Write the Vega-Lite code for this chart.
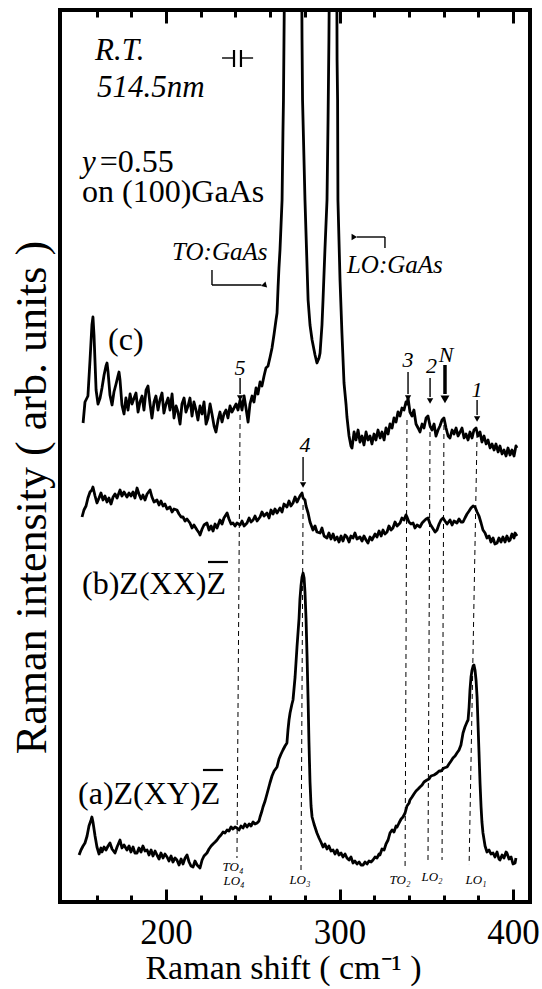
{
  "$schema": "https://vega.github.io/schema/vega-lite/v6.json",
  "width": 470,
  "height": 892,
  "autosize": {"type": "none"},
  "padding": {"left": 60, "top": 10, "right": 12, "bottom": 87},
  "background": "white",
  "config": {
    "view": {"stroke": "black", "strokeWidth": 4},
    "font": "Liberation Serif",
    "axis": {"grid": false, "domain": false, "labelColor": "black", "tickColor": "black", "titleColor": "black", "labelFont": "Liberation Serif", "titleFont": "Liberation Serif", "titleFontWeight": "normal", "labelFlush": false, "labelOverlap": false}
  },
  "datasets": {
    "spectra": [
      {"trace":"c","shift":152.2,"intensity":479},{"trace":"c","shift":153.3,"intensity":500},{"trace":"c","shift":155.0,"intensity":506},{"trace":"c","shift":156.2,"intensity":542},{"trace":"c","shift":157.3,"intensity":577},{"trace":"c","shift":157.9,"intensity":585},{"trace":"c","shift":158.5,"intensity":567},{"trace":"c","shift":159.7,"intensity":512},{"trace":"c","shift":160.8,"intensity":498},{"trace":"c","shift":162.0,"intensity":504},{"trace":"c","shift":163.1,"intensity":514},{"trace":"c","shift":164.3,"intensity":527},{"trace":"c","shift":165.4,"intensity":536},{"trace":"c","shift":166.0,"intensity":539},{"trace":"c","shift":166.6,"intensity":530},{"trace":"c","shift":167.7,"intensity":507},{"trace":"c","shift":168.9,"intensity":497},{"trace":"c","shift":170.0,"intensity":510},{"trace":"c","shift":171.2,"intensity":518},{"trace":"c","shift":172.3,"intensity":526},{"trace":"c","shift":172.9,"intensity":530},{"trace":"c","shift":173.5,"intensity":522},{"trace":"c","shift":174.6,"intensity":497},{"trace":"c","shift":175.8,"intensity":488},{"trace":"c","shift":176.9,"intensity":504},{"trace":"c","shift":178.1,"intensity":492},{"trace":"c","shift":179.3,"intensity":508},{"trace":"c","shift":180.4,"intensity":498},{"trace":"c","shift":181.6,"intensity":504},{"trace":"c","shift":182.7,"intensity":509},{"trace":"c","shift":183.9,"intensity":490},{"trace":"c","shift":185.0,"intensity":500},{"trace":"c","shift":186.2,"intensity":506},{"trace":"c","shift":187.3,"intensity":492},{"trace":"c","shift":188.5,"intensity":512},{"trace":"c","shift":189.6,"intensity":516},{"trace":"c","shift":190.8,"intensity":498},{"trace":"c","shift":191.9,"intensity":484},{"trace":"c","shift":193.1,"intensity":500},{"trace":"c","shift":194.2,"intensity":506},{"trace":"c","shift":195.4,"intensity":492},{"trace":"c","shift":196.5,"intensity":502},{"trace":"c","shift":197.7,"intensity":509},{"trace":"c","shift":198.8,"intensity":489},{"trace":"c","shift":200.0,"intensity":498},{"trace":"c","shift":201.2,"intensity":504},{"trace":"c","shift":202.3,"intensity":492},{"trace":"c","shift":203.5,"intensity":508},{"trace":"c","shift":204.6,"intensity":484},{"trace":"c","shift":205.8,"intensity":496},{"trace":"c","shift":206.9,"intensity":490},{"trace":"c","shift":208.1,"intensity":478},{"trace":"c","shift":209.2,"intensity":498},{"trace":"c","shift":210.4,"intensity":504},{"trace":"c","shift":211.5,"intensity":490},{"trace":"c","shift":212.7,"intensity":496},{"trace":"c","shift":213.8,"intensity":504},{"trace":"c","shift":215.0,"intensity":486},{"trace":"c","shift":216.1,"intensity":500},{"trace":"c","shift":217.3,"intensity":492},{"trace":"c","shift":218.4,"intensity":482},{"trace":"c","shift":219.6,"intensity":496},{"trace":"c","shift":220.8,"intensity":488},{"trace":"c","shift":221.9,"intensity":500},{"trace":"c","shift":223.1,"intensity":478},{"trace":"c","shift":224.2,"intensity":484},{"trace":"c","shift":225.4,"intensity":498},{"trace":"c","shift":226.5,"intensity":488},{"trace":"c","shift":227.7,"intensity":476},{"trace":"c","shift":228.8,"intensity":470},{"trace":"c","shift":230.0,"intensity":482},{"trace":"c","shift":231.1,"intensity":490},{"trace":"c","shift":232.3,"intensity":480},{"trace":"c","shift":233.4,"intensity":488},{"trace":"c","shift":234.6,"intensity":492},{"trace":"c","shift":235.7,"intensity":484},{"trace":"c","shift":236.9,"intensity":496},{"trace":"c","shift":238.0,"intensity":490},{"trace":"c","shift":239.2,"intensity":494},{"trace":"c","shift":240.4,"intensity":498},{"trace":"c","shift":241.5,"intensity":492},{"trace":"c","shift":242.7,"intensity":502},{"trace":"c","shift":243.8,"intensity":492},{"trace":"c","shift":245.0,"intensity":506},{"trace":"c","shift":246.1,"intensity":494},{"trace":"c","shift":247.3,"intensity":480},{"trace":"c","shift":248.4,"intensity":498},{"trace":"c","shift":249.6,"intensity":506},{"trace":"c","shift":250.7,"intensity":500},{"trace":"c","shift":251.9,"intensity":514},{"trace":"c","shift":253.0,"intensity":508},{"trace":"c","shift":254.2,"intensity":520},{"trace":"c","shift":255.3,"intensity":516},{"trace":"c","shift":256.5,"intensity":526},{"trace":"c","shift":257.6,"intensity":534},{"trace":"c","shift":258.8,"intensity":536},{"trace":"c","shift":260.0,"intensity":545},{"trace":"c","shift":261.1,"intensity":554},{"trace":"c","shift":262.3,"intensity":568},{"trace":"c","shift":263.4,"intensity":582},{"trace":"c","shift":264.0,"intensity":589},{"trace":"c","shift":264.6,"intensity":615},{"trace":"c","shift":265.1,"intensity":634},{"trace":"c","shift":265.7,"intensity":652},{"trace":"c","shift":266.3,"intensity":677},{"trace":"c","shift":266.9,"intensity":702},{"trace":"c","shift":267.4,"intensity":769},{"trace":"c","shift":267.7,"intensity":802},{"trace":"c","shift":268.0,"intensity":862},{"trace":"c","shift":269.2,"intensity":1100},{"trace":"c","shift":273.2,"intensity":1700},{"trace":"c","shift":278.0,"intensity":1000},{"trace":"c","shift":278.4,"intensity":862},{"trace":"c","shift":278.7,"intensity":802},{"trace":"c","shift":280.1,"intensity":702},{"trace":"c","shift":281.9,"intensity":602},{"trace":"c","shift":283.0,"intensity":577},{"trace":"c","shift":284.2,"intensity":562},{"trace":"c","shift":285.9,"intensity":547},{"trace":"c","shift":287.0,"intensity":539},{"trace":"c","shift":288.2,"intensity":544},{"trace":"c","shift":288.8,"intensity":549},{"trace":"c","shift":289.9,"intensity":577},{"trace":"c","shift":290.5,"intensity":602},{"trace":"c","shift":291.6,"intensity":652},{"trace":"c","shift":292.8,"intensity":702},{"trace":"c","shift":293.4,"intensity":782},{"trace":"c","shift":293.9,"intensity":862},{"trace":"c","shift":294.5,"intensity":1000},{"trace":"c","shift":296.8,"intensity":1700},{"trace":"c","shift":298.3,"intensity":1000},{"trace":"c","shift":298.6,"intensity":842},{"trace":"c","shift":298.9,"intensity":802},{"trace":"c","shift":299.1,"intensity":702},{"trace":"c","shift":300.3,"intensity":622},{"trace":"c","shift":301.4,"intensity":569},{"trace":"c","shift":302.6,"intensity":519},{"trace":"c","shift":303.8,"intensity":497},{"trace":"c","shift":304.3,"intensity":485},{"trace":"c","shift":305.5,"intensity":466},{"trace":"c","shift":306.6,"intensity":456},{"trace":"c","shift":307.2,"intensity":454},{"trace":"c","shift":308.4,"intensity":470},{"trace":"c","shift":309.5,"intensity":462},{"trace":"c","shift":310.7,"intensity":472},{"trace":"c","shift":311.8,"intensity":460},{"trace":"c","shift":313.0,"intensity":466},{"trace":"c","shift":314.1,"intensity":457},{"trace":"c","shift":315.3,"intensity":470},{"trace":"c","shift":316.4,"intensity":462},{"trace":"c","shift":317.6,"intensity":466},{"trace":"c","shift":318.7,"intensity":458},{"trace":"c","shift":319.9,"intensity":468},{"trace":"c","shift":321.0,"intensity":462},{"trace":"c","shift":322.2,"intensity":472},{"trace":"c","shift":323.4,"intensity":464},{"trace":"c","shift":324.5,"intensity":470},{"trace":"c","shift":325.7,"intensity":462},{"trace":"c","shift":326.8,"intensity":474},{"trace":"c","shift":328.0,"intensity":468},{"trace":"c","shift":329.1,"intensity":478},{"trace":"c","shift":330.3,"intensity":474},{"trace":"c","shift":331.4,"intensity":484},{"trace":"c","shift":332.6,"intensity":480},{"trace":"c","shift":333.7,"intensity":490},{"trace":"c","shift":334.9,"intensity":486},{"trace":"c","shift":336.0,"intensity":494},{"trace":"c","shift":337.2,"intensity":492},{"trace":"c","shift":338.3,"intensity":500},{"trace":"c","shift":338.9,"intensity":498},{"trace":"c","shift":339.5,"intensity":504},{"trace":"c","shift":340.6,"intensity":490},{"trace":"c","shift":341.8,"intensity":486},{"trace":"c","shift":342.9,"intensity":492},{"trace":"c","shift":344.1,"intensity":478},{"trace":"c","shift":345.3,"intensity":474},{"trace":"c","shift":346.4,"intensity":470},{"trace":"c","shift":347.6,"intensity":478},{"trace":"c","shift":348.7,"intensity":474},{"trace":"c","shift":349.9,"intensity":484},{"trace":"c","shift":351.0,"intensity":486},{"trace":"c","shift":352.2,"intensity":476},{"trace":"c","shift":353.3,"intensity":472},{"trace":"c","shift":354.5,"intensity":478},{"trace":"c","shift":355.6,"intensity":466},{"trace":"c","shift":356.8,"intensity":472},{"trace":"c","shift":357.9,"intensity":476},{"trace":"c","shift":359.1,"intensity":482},{"trace":"c","shift":360.2,"intensity":484},{"trace":"c","shift":361.4,"intensity":474},{"trace":"c","shift":362.6,"intensity":466},{"trace":"c","shift":363.7,"intensity":464},{"trace":"c","shift":364.9,"intensity":472},{"trace":"c","shift":366.0,"intensity":468},{"trace":"c","shift":367.2,"intensity":474},{"trace":"c","shift":368.3,"intensity":466},{"trace":"c","shift":369.5,"intensity":470},{"trace":"c","shift":370.6,"intensity":474},{"trace":"c","shift":371.8,"intensity":464},{"trace":"c","shift":372.9,"intensity":468},{"trace":"c","shift":374.1,"intensity":462},{"trace":"c","shift":375.2,"intensity":470},{"trace":"c","shift":376.4,"intensity":464},{"trace":"c","shift":377.5,"intensity":472},{"trace":"c","shift":378.7,"intensity":474},{"trace":"c","shift":379.8,"intensity":466},{"trace":"c","shift":381.0,"intensity":470},{"trace":"c","shift":382.1,"intensity":460},{"trace":"c","shift":383.3,"intensity":466},{"trace":"c","shift":384.5,"intensity":458},{"trace":"c","shift":385.6,"intensity":462},{"trace":"c","shift":386.8,"intensity":454},{"trace":"c","shift":387.9,"intensity":458},{"trace":"c","shift":389.1,"intensity":452},{"trace":"c","shift":390.2,"intensity":458},{"trace":"c","shift":391.4,"intensity":450},{"trace":"c","shift":392.5,"intensity":456},{"trace":"c","shift":393.7,"intensity":448},{"trace":"c","shift":394.8,"intensity":452},{"trace":"c","shift":396.0,"intensity":446},{"trace":"c","shift":397.1,"intensity":454},{"trace":"c","shift":398.3,"intensity":447},{"trace":"c","shift":399.4,"intensity":452},{"trace":"c","shift":400.6,"intensity":446},{"trace":"c","shift":401.7,"intensity":456},{"trace":"c","shift":402.3,"intensity":454},
      {"trace":"b","shift":151.6,"intensity":385},{"trace":"b","shift":152.7,"intensity":392},{"trace":"b","shift":153.9,"intensity":396},{"trace":"b","shift":155.0,"intensity":404},{"trace":"b","shift":156.2,"intensity":410},{"trace":"b","shift":157.3,"intensity":412},{"trace":"b","shift":157.9,"intensity":415},{"trace":"b","shift":159.1,"intensity":406},{"trace":"b","shift":160.2,"intensity":399},{"trace":"b","shift":161.4,"intensity":404},{"trace":"b","shift":162.5,"intensity":409},{"trace":"b","shift":163.7,"intensity":402},{"trace":"b","shift":164.8,"intensity":406},{"trace":"b","shift":166.0,"intensity":400},{"trace":"b","shift":167.1,"intensity":404},{"trace":"b","shift":168.3,"intensity":398},{"trace":"b","shift":169.5,"intensity":405},{"trace":"b","shift":170.6,"intensity":408},{"trace":"b","shift":171.8,"intensity":404},{"trace":"b","shift":173.5,"intensity":412},{"trace":"b","shift":174.6,"intensity":406},{"trace":"b","shift":175.8,"intensity":410},{"trace":"b","shift":177.5,"intensity":405},{"trace":"b","shift":178.7,"intensity":409},{"trace":"b","shift":179.8,"intensity":406},{"trace":"b","shift":181.0,"intensity":410},{"trace":"b","shift":182.1,"intensity":404},{"trace":"b","shift":183.3,"intensity":414},{"trace":"b","shift":184.4,"intensity":408},{"trace":"b","shift":185.6,"intensity":403},{"trace":"b","shift":186.7,"intensity":407},{"trace":"b","shift":187.9,"intensity":402},{"trace":"b","shift":189.1,"intensity":408},{"trace":"b","shift":190.8,"intensity":412},{"trace":"b","shift":191.9,"intensity":405},{"trace":"b","shift":193.1,"intensity":400},{"trace":"b","shift":194.8,"intensity":402},{"trace":"b","shift":196.0,"intensity":397},{"trace":"b","shift":197.1,"intensity":401},{"trace":"b","shift":198.3,"intensity":396},{"trace":"b","shift":199.4,"intensity":398},{"trace":"b","shift":200.6,"intensity":393},{"trace":"b","shift":202.3,"intensity":395},{"trace":"b","shift":203.5,"intensity":390},{"trace":"b","shift":204.6,"intensity":393},{"trace":"b","shift":206.3,"intensity":392},{"trace":"b","shift":207.5,"intensity":388},{"trace":"b","shift":208.7,"intensity":385},{"trace":"b","shift":209.8,"intensity":385},{"trace":"b","shift":211.0,"intensity":381},{"trace":"b","shift":212.1,"intensity":383},{"trace":"b","shift":213.8,"intensity":379},{"trace":"b","shift":215.0,"intensity":374},{"trace":"b","shift":216.1,"intensity":377},{"trace":"b","shift":217.9,"intensity":372},{"trace":"b","shift":219.1,"intensity":369},{"trace":"b","shift":219.6,"intensity":367},{"trace":"b","shift":220.8,"intensity":373},{"trace":"b","shift":221.9,"intensity":377},{"trace":"b","shift":223.6,"intensity":379},{"trace":"b","shift":224.8,"intensity":372},{"trace":"b","shift":226.0,"intensity":376},{"trace":"b","shift":227.1,"intensity":371},{"trace":"b","shift":228.3,"intensity":378},{"trace":"b","shift":229.4,"intensity":374},{"trace":"b","shift":231.1,"intensity":382},{"trace":"b","shift":232.3,"intensity":378},{"trace":"b","shift":233.4,"intensity":384},{"trace":"b","shift":235.2,"intensity":389},{"trace":"b","shift":236.3,"intensity":383},{"trace":"b","shift":237.5,"intensity":378},{"trace":"b","shift":238.6,"intensity":379},{"trace":"b","shift":239.8,"intensity":376},{"trace":"b","shift":240.9,"intensity":379},{"trace":"b","shift":242.7,"intensity":377},{"trace":"b","shift":243.8,"intensity":381},{"trace":"b","shift":245.0,"intensity":376},{"trace":"b","shift":246.7,"intensity":379},{"trace":"b","shift":247.9,"intensity":384},{"trace":"b","shift":249.0,"intensity":380},{"trace":"b","shift":250.2,"intensity":382},{"trace":"b","shift":251.3,"intensity":386},{"trace":"b","shift":252.5,"intensity":381},{"trace":"b","shift":254.2,"intensity":385},{"trace":"b","shift":255.3,"intensity":390},{"trace":"b","shift":256.5,"intensity":386},{"trace":"b","shift":258.2,"intensity":389},{"trace":"b","shift":259.4,"intensity":384},{"trace":"b","shift":260.5,"intensity":392},{"trace":"b","shift":261.7,"intensity":388},{"trace":"b","shift":262.8,"intensity":393},{"trace":"b","shift":264.0,"intensity":389},{"trace":"b","shift":265.7,"intensity":394},{"trace":"b","shift":266.9,"intensity":390},{"trace":"b","shift":268.0,"intensity":398},{"trace":"b","shift":269.7,"intensity":395},{"trace":"b","shift":270.9,"intensity":401},{"trace":"b","shift":272.0,"intensity":396},{"trace":"b","shift":273.2,"intensity":399},{"trace":"b","shift":274.4,"intensity":405},{"trace":"b","shift":275.5,"intensity":400},{"trace":"b","shift":276.1,"intensity":402},{"trace":"b","shift":277.2,"intensity":406},{"trace":"b","shift":278.4,"intensity":409},{"trace":"b","shift":279.0,"intensity":404},{"trace":"b","shift":280.1,"intensity":402},{"trace":"b","shift":280.7,"intensity":396},{"trace":"b","shift":281.9,"intensity":389},{"trace":"b","shift":283.0,"intensity":380},{"trace":"b","shift":284.7,"intensity":372},{"trace":"b","shift":285.9,"intensity":376},{"trace":"b","shift":287.0,"intensity":370},{"trace":"b","shift":288.8,"intensity":369},{"trace":"b","shift":289.9,"intensity":374},{"trace":"b","shift":291.1,"intensity":366},{"trace":"b","shift":292.8,"intensity":364},{"trace":"b","shift":293.9,"intensity":369},{"trace":"b","shift":295.1,"intensity":363},{"trace":"b","shift":296.3,"intensity":368},{"trace":"b","shift":297.4,"intensity":362},{"trace":"b","shift":298.6,"intensity":365},{"trace":"b","shift":299.7,"intensity":360},{"trace":"b","shift":300.9,"intensity":366},{"trace":"b","shift":302.0,"intensity":361},{"trace":"b","shift":303.2,"intensity":367},{"trace":"b","shift":304.3,"intensity":365},{"trace":"b","shift":305.5,"intensity":360},{"trace":"b","shift":306.6,"intensity":366},{"trace":"b","shift":307.8,"intensity":364},{"trace":"b","shift":308.9,"intensity":369},{"trace":"b","shift":310.1,"intensity":363},{"trace":"b","shift":311.8,"intensity":365},{"trace":"b","shift":313.0,"intensity":361},{"trace":"b","shift":314.1,"intensity":366},{"trace":"b","shift":315.3,"intensity":362},{"trace":"b","shift":316.4,"intensity":359},{"trace":"b","shift":317.6,"intensity":365},{"trace":"b","shift":318.7,"intensity":362},{"trace":"b","shift":320.5,"intensity":368},{"trace":"b","shift":321.6,"intensity":365},{"trace":"b","shift":322.8,"intensity":371},{"trace":"b","shift":324.0,"intensity":366},{"trace":"b","shift":325.1,"intensity":372},{"trace":"b","shift":326.2,"intensity":368},{"trace":"b","shift":327.4,"intensity":370},{"trace":"b","shift":328.5,"intensity":376},{"trace":"b","shift":329.7,"intensity":372},{"trace":"b","shift":330.8,"intensity":374},{"trace":"b","shift":332.0,"intensity":380},{"trace":"b","shift":333.2,"intensity":376},{"trace":"b","shift":334.9,"intensity":379},{"trace":"b","shift":336.0,"intensity":384},{"trace":"b","shift":337.2,"intensity":382},{"trace":"b","shift":338.3,"intensity":387},{"trace":"b","shift":338.9,"intensity":385},{"trace":"b","shift":340.0,"intensity":380},{"trace":"b","shift":341.2,"intensity":378},{"trace":"b","shift":342.4,"intensity":379},{"trace":"b","shift":343.5,"intensity":374},{"trace":"b","shift":344.7,"intensity":377},{"trace":"b","shift":346.4,"intensity":375},{"trace":"b","shift":347.6,"intensity":379},{"trace":"b","shift":348.7,"intensity":381},{"trace":"b","shift":349.9,"intensity":383},{"trace":"b","shift":351.0,"intensity":384},{"trace":"b","shift":352.2,"intensity":378},{"trace":"b","shift":353.3,"intensity":375},{"trace":"b","shift":355.1,"intensity":370},{"trace":"b","shift":356.2,"intensity":372},{"trace":"b","shift":357.4,"intensity":378},{"trace":"b","shift":358.5,"intensity":382},{"trace":"b","shift":359.7,"intensity":384},{"trace":"b","shift":360.8,"intensity":381},{"trace":"b","shift":362.0,"intensity":378},{"trace":"b","shift":363.7,"intensity":382},{"trace":"b","shift":364.9,"intensity":377},{"trace":"b","shift":366.0,"intensity":381},{"trace":"b","shift":367.7,"intensity":379},{"trace":"b","shift":368.9,"intensity":383},{"trace":"b","shift":370.0,"intensity":380},{"trace":"b","shift":371.2,"intensity":380},{"trace":"b","shift":372.3,"intensity":384},{"trace":"b","shift":373.5,"intensity":388},{"trace":"b","shift":374.7,"intensity":391},{"trace":"b","shift":375.8,"intensity":394},{"trace":"b","shift":377.0,"intensity":396},{"trace":"b","shift":378.1,"intensity":395},{"trace":"b","shift":379.3,"intensity":390},{"trace":"b","shift":380.4,"intensity":386},{"trace":"b","shift":381.6,"intensity":379},{"trace":"b","shift":382.7,"intensity":372},{"trace":"b","shift":383.9,"intensity":369},{"trace":"b","shift":385.0,"intensity":364},{"trace":"b","shift":386.2,"intensity":366},{"trace":"b","shift":387.3,"intensity":360},{"trace":"b","shift":388.5,"intensity":364},{"trace":"b","shift":389.6,"intensity":358},{"trace":"b","shift":390.8,"intensity":359},{"trace":"b","shift":391.9,"intensity":364},{"trace":"b","shift":393.1,"intensity":360},{"trace":"b","shift":394.2,"intensity":365},{"trace":"b","shift":395.4,"intensity":360},{"trace":"b","shift":396.5,"intensity":366},{"trace":"b","shift":397.7,"intensity":361},{"trace":"b","shift":398.3,"intensity":362},{"trace":"b","shift":399.4,"intensity":368},{"trace":"b","shift":400.6,"intensity":364},{"trace":"b","shift":401.2,"intensity":369},{"trace":"b","shift":402.3,"intensity":366},
      {"trace":"a","shift":149.9,"intensity":47},{"trace":"a","shift":151.0,"intensity":52},{"trace":"a","shift":152.2,"intensity":56},{"trace":"a","shift":153.3,"intensity":59},{"trace":"a","shift":154.5,"intensity":66},{"trace":"a","shift":155.6,"intensity":76},{"trace":"a","shift":156.8,"intensity":82},{"trace":"a","shift":157.3,"intensity":85},{"trace":"a","shift":157.9,"intensity":80},{"trace":"a","shift":159.1,"intensity":66},{"trace":"a","shift":160.2,"intensity":55},{"trace":"a","shift":161.4,"intensity":48},{"trace":"a","shift":162.5,"intensity":54},{"trace":"a","shift":163.1,"intensity":50},{"trace":"a","shift":164.3,"intensity":55},{"trace":"a","shift":165.4,"intensity":52},{"trace":"a","shift":166.6,"intensity":56},{"trace":"a","shift":167.7,"intensity":59},{"trace":"a","shift":168.9,"intensity":53},{"trace":"a","shift":170.6,"intensity":49},{"trace":"a","shift":171.8,"intensity":55},{"trace":"a","shift":173.5,"intensity":62},{"trace":"a","shift":174.6,"intensity":54},{"trace":"a","shift":175.8,"intensity":57},{"trace":"a","shift":177.5,"intensity":52},{"trace":"a","shift":178.7,"intensity":56},{"trace":"a","shift":179.8,"intensity":50},{"trace":"a","shift":181.0,"intensity":55},{"trace":"a","shift":182.1,"intensity":49},{"trace":"a","shift":183.3,"intensity":49},{"trace":"a","shift":184.4,"intensity":54},{"trace":"a","shift":185.6,"intensity":50},{"trace":"a","shift":186.7,"intensity":56},{"trace":"a","shift":187.9,"intensity":51},{"trace":"a","shift":189.1,"intensity":52},{"trace":"a","shift":190.2,"intensity":47},{"trace":"a","shift":191.4,"intensity":52},{"trace":"a","shift":192.5,"intensity":46},{"trace":"a","shift":193.7,"intensity":51},{"trace":"a","shift":194.8,"intensity":47},{"trace":"a","shift":196.0,"intensity":43},{"trace":"a","shift":197.1,"intensity":49},{"trace":"a","shift":198.3,"intensity":44},{"trace":"a","shift":199.4,"intensity":48},{"trace":"a","shift":200.6,"intensity":45},{"trace":"a","shift":201.7,"intensity":41},{"trace":"a","shift":202.9,"intensity":46},{"trace":"a","shift":204.0,"intensity":40},{"trace":"a","shift":205.2,"intensity":44},{"trace":"a","shift":206.3,"intensity":42},{"trace":"a","shift":207.5,"intensity":37},{"trace":"a","shift":208.7,"intensity":43},{"trace":"a","shift":209.8,"intensity":38},{"trace":"a","shift":211.0,"intensity":44},{"trace":"a","shift":212.1,"intensity":47},{"trace":"a","shift":213.3,"intensity":40},{"trace":"a","shift":214.4,"intensity":36},{"trace":"a","shift":215.6,"intensity":35},{"trace":"a","shift":216.7,"intensity":41},{"trace":"a","shift":217.9,"intensity":37},{"trace":"a","shift":219.6,"intensity":34},{"trace":"a","shift":220.8,"intensity":42},{"trace":"a","shift":221.9,"intensity":46},{"trace":"a","shift":223.6,"intensity":49},{"trace":"a","shift":224.8,"intensity":53},{"trace":"a","shift":226.0,"intensity":56},{"trace":"a","shift":227.1,"intensity":58},{"trace":"a","shift":228.3,"intensity":60},{"trace":"a","shift":229.4,"intensity":62},{"trace":"a","shift":230.6,"intensity":65},{"trace":"a","shift":231.7,"intensity":67},{"trace":"a","shift":232.9,"intensity":70},{"trace":"a","shift":234.0,"intensity":69},{"trace":"a","shift":235.2,"intensity":72},{"trace":"a","shift":236.3,"intensity":71},{"trace":"a","shift":237.5,"intensity":75},{"trace":"a","shift":238.6,"intensity":73},{"trace":"a","shift":239.8,"intensity":75},{"trace":"a","shift":240.9,"intensity":74},{"trace":"a","shift":242.1,"intensity":72},{"trace":"a","shift":243.2,"intensity":76},{"trace":"a","shift":244.4,"intensity":74},{"trace":"a","shift":245.5,"intensity":78},{"trace":"a","shift":246.7,"intensity":75},{"trace":"a","shift":247.9,"intensity":78},{"trace":"a","shift":249.0,"intensity":76},{"trace":"a","shift":250.2,"intensity":80},{"trace":"a","shift":251.3,"intensity":78},{"trace":"a","shift":252.5,"intensity":79},{"trace":"a","shift":253.6,"intensity":81},{"trace":"a","shift":254.2,"intensity":85},{"trace":"a","shift":255.3,"intensity":91},{"trace":"a","shift":255.9,"intensity":95},{"trace":"a","shift":257.1,"intensity":101},{"trace":"a","shift":258.2,"intensity":108},{"trace":"a","shift":259.9,"intensity":119},{"trace":"a","shift":261.1,"intensity":126},{"trace":"a","shift":262.3,"intensity":131},{"trace":"a","shift":264.0,"intensity":135},{"trace":"a","shift":265.1,"intensity":143},{"trace":"a","shift":266.3,"intensity":148},{"trace":"a","shift":267.4,"intensity":152},{"trace":"a","shift":268.6,"intensity":156},{"trace":"a","shift":269.7,"intensity":159},{"trace":"a","shift":270.3,"intensity":172},{"trace":"a","shift":270.9,"intensity":182},{"trace":"a","shift":271.5,"intensity":189},{"trace":"a","shift":272.6,"intensity":198},{"trace":"a","shift":273.2,"intensity":202},{"trace":"a","shift":274.4,"intensity":225},{"trace":"a","shift":275.5,"intensity":255},{"trace":"a","shift":276.7,"intensity":284},{"trace":"a","shift":277.2,"intensity":303},{"trace":"a","shift":277.8,"intensity":316},{"trace":"a","shift":278.4,"intensity":325},{"trace":"a","shift":279.0,"intensity":329},{"trace":"a","shift":279.6,"intensity":324},{"trace":"a","shift":280.1,"intensity":310},{"trace":"a","shift":280.7,"intensity":284},{"trace":"a","shift":281.3,"intensity":246},{"trace":"a","shift":281.9,"intensity":202},{"trace":"a","shift":282.4,"intensity":160},{"trace":"a","shift":283.0,"intensity":120},{"trace":"a","shift":283.6,"intensity":96},{"trace":"a","shift":284.2,"intensity":85},{"trace":"a","shift":285.3,"intensity":78},{"trace":"a","shift":287.0,"intensity":69},{"trace":"a","shift":288.2,"intensity":64},{"trace":"a","shift":289.3,"intensity":60},{"trace":"a","shift":290.5,"intensity":55},{"trace":"a","shift":291.6,"intensity":58},{"trace":"a","shift":292.8,"intensity":53},{"trace":"a","shift":293.9,"intensity":56},{"trace":"a","shift":295.1,"intensity":51},{"trace":"a","shift":296.3,"intensity":52},{"trace":"a","shift":297.4,"intensity":48},{"trace":"a","shift":298.6,"intensity":52},{"trace":"a","shift":299.7,"intensity":47},{"trace":"a","shift":300.9,"intensity":49},{"trace":"a","shift":302.0,"intensity":45},{"trace":"a","shift":303.2,"intensity":48},{"trace":"a","shift":304.3,"intensity":44},{"trace":"a","shift":305.5,"intensity":42},{"trace":"a","shift":306.6,"intensity":45},{"trace":"a","shift":307.8,"intensity":39},{"trace":"a","shift":308.9,"intensity":41},{"trace":"a","shift":310.1,"intensity":38},{"trace":"a","shift":311.3,"intensity":40},{"trace":"a","shift":312.4,"intensity":37},{"trace":"a","shift":313.6,"intensity":37},{"trace":"a","shift":314.7,"intensity":40},{"trace":"a","shift":315.9,"intensity":38},{"trace":"a","shift":317.0,"intensity":41},{"trace":"a","shift":318.2,"intensity":40},{"trace":"a","shift":319.3,"intensity":42},{"trace":"a","shift":320.5,"intensity":45},{"trace":"a","shift":321.6,"intensity":44},{"trace":"a","shift":322.8,"intensity":48},{"trace":"a","shift":323.3,"intensity":47},{"trace":"a","shift":324.5,"intensity":53},{"trace":"a","shift":325.7,"intensity":52},{"trace":"a","shift":326.8,"intensity":58},{"trace":"a","shift":328.0,"intensity":62},{"trace":"a","shift":329.1,"intensity":69},{"trace":"a","shift":330.3,"intensity":72},{"trace":"a","shift":331.4,"intensity":70},{"trace":"a","shift":332.6,"intensity":76},{"trace":"a","shift":333.2,"intensity":75},{"trace":"a","shift":334.3,"intensity":79},{"trace":"a","shift":335.5,"intensity":83},{"trace":"a","shift":336.6,"intensity":85},{"trace":"a","shift":337.8,"intensity":89},{"trace":"a","shift":338.9,"intensity":96},{"trace":"a","shift":340.1,"intensity":99},{"trace":"a","shift":340.6,"intensity":102},{"trace":"a","shift":341.8,"intensity":105},{"trace":"a","shift":342.9,"intensity":108},{"trace":"a","shift":344.1,"intensity":111},{"trace":"a","shift":345.3,"intensity":113},{"trace":"a","shift":346.4,"intensity":115},{"trace":"a","shift":347.6,"intensity":117},{"trace":"a","shift":348.7,"intensity":120},{"trace":"a","shift":350.4,"intensity":122},{"trace":"a","shift":351.6,"intensity":123},{"trace":"a","shift":352.7,"intensity":126},{"trace":"a","shift":354.5,"intensity":127},{"trace":"a","shift":356.2,"intensity":129},{"trace":"a","shift":357.4,"intensity":131},{"trace":"a","shift":358.5,"intensity":131},{"trace":"a","shift":360.2,"intensity":134},{"trace":"a","shift":362.0,"intensity":135},{"trace":"a","shift":363.1,"intensity":138},{"trace":"a","shift":364.3,"intensity":141},{"trace":"a","shift":365.4,"intensity":144},{"trace":"a","shift":366.6,"intensity":146},{"trace":"a","shift":367.7,"intensity":149},{"trace":"a","shift":368.9,"intensity":152},{"trace":"a","shift":370.0,"intensity":157},{"trace":"a","shift":371.2,"intensity":169},{"trace":"a","shift":372.3,"intensity":175},{"trace":"a","shift":373.5,"intensity":180},{"trace":"a","shift":374.1,"intensity":182},{"trace":"a","shift":374.7,"intensity":195},{"trace":"a","shift":375.2,"intensity":212},{"trace":"a","shift":375.8,"intensity":225},{"trace":"a","shift":376.4,"intensity":232},{"trace":"a","shift":377.0,"intensity":236},{"trace":"a","shift":377.5,"intensity":237},{"trace":"a","shift":378.1,"intensity":232},{"trace":"a","shift":378.7,"intensity":222},{"trace":"a","shift":379.3,"intensity":205},{"trace":"a","shift":379.8,"intensity":180},{"trace":"a","shift":380.4,"intensity":150},{"trace":"a","shift":381.0,"intensity":119},{"trace":"a","shift":381.6,"intensity":95},{"trace":"a","shift":382.1,"intensity":80},{"trace":"a","shift":382.7,"intensity":69},{"trace":"a","shift":383.9,"intensity":56},{"trace":"a","shift":385.0,"intensity":50},{"trace":"a","shift":386.2,"intensity":52},{"trace":"a","shift":387.3,"intensity":48},{"trace":"a","shift":388.5,"intensity":49},{"trace":"a","shift":389.6,"intensity":45},{"trace":"a","shift":390.8,"intensity":50},{"trace":"a","shift":391.9,"intensity":43},{"trace":"a","shift":392.5,"intensity":42},{"trace":"a","shift":393.7,"intensity":47},{"trace":"a","shift":394.8,"intensity":44},{"trace":"a","shift":396.0,"intensity":50},{"trace":"a","shift":396.5,"intensity":49},{"trace":"a","shift":397.7,"intensity":43},{"trace":"a","shift":398.9,"intensity":45},{"trace":"a","shift":400.0,"intensity":38},{"trace":"a","shift":401.2,"intensity":39},{"trace":"a","shift":401.7,"intensity":44}
    ],
    "guides": [
      {"mode":"TO4/LO4","shiftTop":242.7,"shiftBottom":240.9,"levelTop":487,"levelBottom":44},
      {"mode":"LO3","shiftTop":279.0,"shiftBottom":277.8,"levelTop":397,"levelBottom":29},
      {"mode":"TO2","shiftTop":338.9,"shiftBottom":337.8,"levelTop":482,"levelBottom":35},
      {"mode":"LO2","shiftTop":352.2,"shiftBottom":351.0,"levelTop":479,"levelBottom":39},
      {"mode":"N","shiftTop":360.2,"shiftBottom":359.1,"levelTop":477,"levelBottom":42},
      {"mode":"LO1","shiftTop":379.3,"shiftBottom":374.7,"levelTop":469,"levelBottom":37}
    ],
    "strokes": [
      {"part":"shaft","shift":242.7,"shiftEnd":242.7,"level":524,"levelEnd":508},
      {"part":"shaft","shift":339.5,"shiftEnd":339.5,"level":530,"levelEnd":508},
      {"part":"shaft","shift":352.2,"shiftEnd":352.2,"level":524,"levelEnd":505},
      {"part":"shaft","shift":379.3,"shiftEnd":379.3,"level":502,"levelEnd":487},
      {"part":"shaft","shift":279.0,"shiftEnd":279.0,"level":445,"levelEnd":421},
      {"part":"shaft","shift":226.5,"shiftEnd":226.5,"level":632,"levelEnd":617},
      {"part":"shaft","shift":226.5,"shiftEnd":255.0,"level":617,"levelEnd":617},
      {"part":"shaft","shift":310.0,"shiftEnd":326.2,"level":665,"levelEnd":665},
      {"part":"shaft","shift":326.2,"shiftEnd":326.2,"level":665,"levelEnd":654},
      {"part":"shaft","shift":232.3,"shiftEnd":239.2,"level":844,"levelEnd":844},
      {"part":"shaft","shift":243.2,"shiftEnd":250.2,"level":844,"levelEnd":844},
      {"part":"bold","shift":360.8,"shiftEnd":360.8,"level":537,"levelEnd":508},
      {"part":"bar","shift":224.2,"shiftEnd":235.7,"level":340,"levelEnd":340},
      {"part":"bar","shift":221.3,"shiftEnd":232.9,"level":132,"levelEnd":132},
      {"part":"bar","shift":239.2,"shiftEnd":239.2,"level":852,"levelEnd":835},
      {"part":"bar","shift":243.2,"shiftEnd":243.2,"level":852,"levelEnd":835}
    ],
    "heads": [
      {"part":"thin","direction":"down","shift":242.7,"level":505},
      {"part":"thin","direction":"down","shift":339.5,"level":505},
      {"part":"thin","direction":"down","shift":352.2,"level":502},
      {"part":"thin","direction":"down","shift":379.3,"level":484},
      {"part":"thin","direction":"down","shift":279.0,"level":418},
      {"part":"thin","direction":"right","shift":256.8,"level":617},
      {"part":"thin","direction":"left","shift":308.0,"level":665},
      {"part":"bold","direction":"down","shift":360.8,"level":504}
    ]
  },
  "resolve": {"axis": {"x": "independent", "y": "independent"}},
  "layer": [
    {
      "data": {"name": "guides"},
      "mark": {"type": "rule", "color": "black", "strokeWidth": 1, "strokeDash": [5, 4]},
      "encoding": {
        "x": {"field": "shiftTop", "type": "quantitative", "scale": {"domain": [138.9, 409.8], "nice": false, "zero": false},
              "axis": {"orient": "bottom", "values": [160, 180, 220, 240, 260, 280, 320, 340, 360, 380], "tickSize": -7, "tickWidth": 3, "labels": false, "title": null}},
        "x2": {"field": "shiftBottom"},
        "y": {"field": "levelTop", "type": "quantitative", "scale": {"domain": [0, 892], "nice": false, "zero": false},
              "axis": {"orient": "left", "ticks": false, "labels": false, "title": "Raman intensity ( arb. units )", "titleFontSize": 44, "titlePadding": 6, "titleY": 487}},
        "y2": {"field": "levelBottom"}
      }
    },
    {
      "data": {"name": "spectra"},
      "mark": {"type": "line", "color": "black", "strokeWidth": 2.8, "clip": true, "strokeJoin": "round"},
      "encoding": {
        "x": {"field": "shift", "type": "quantitative", "scale": {"domain": [138.9, 409.8], "nice": false, "zero": false},
              "axis": {"orient": "bottom", "values": [200, 300, 400], "tickSize": -13, "tickWidth": 3, "labelFontSize": 35, "labelPadding": 26, "title": "Raman shift ( cm⁻¹ )", "titleFontSize": 34, "titlePadding": 1, "titleX": 223}},
        "y": {"field": "intensity", "type": "quantitative", "scale": {"domain": [0, 892], "nice": false, "zero": false}, "axis": null},
        "detail": {"field": "trace"}
      }
    },
    {
      "data": {"name": "strokes"},
      "transform": [{"filter": "datum.part === 'shaft'"}],
      "mark": {"type": "rule", "color": "black", "strokeWidth": 1.4},
      "encoding": {
        "x": {"field": "shift", "type": "quantitative", "scale": {"domain": [138.9, 409.8], "nice": false, "zero": false},
              "axis": {"orient": "top", "values": [160, 180, 220, 240, 260, 280, 320, 340, 360, 380], "tickSize": -7, "tickWidth": 3, "labels": false, "title": null}},
        "x2": {"field": "shiftEnd"},
        "y": {"field": "level", "type": "quantitative", "scale": {"domain": [0, 892], "nice": false, "zero": false}, "axis": null},
        "y2": {"field": "levelEnd"}
      }
    },
    {
      "data": {"name": "strokes"},
      "transform": [{"filter": "datum.part === 'bold'"}],
      "mark": {"type": "rule", "color": "black", "strokeWidth": 3.5},
      "encoding": {
        "x": {"field": "shift", "type": "quantitative", "scale": {"domain": [138.9, 409.8], "nice": false, "zero": false}, "axis": null},
        "x2": {"field": "shiftEnd"},
        "y": {"field": "level", "type": "quantitative", "scale": {"domain": [0, 892], "nice": false, "zero": false}, "axis": null},
        "y2": {"field": "levelEnd"}
      }
    },
    {
      "data": {"name": "strokes"},
      "transform": [{"filter": "datum.part === 'bar'"}],
      "mark": {"type": "rule", "color": "black", "strokeWidth": 2.2},
      "encoding": {
        "x": {"field": "shift", "type": "quantitative", "scale": {"domain": [138.9, 409.8], "nice": false, "zero": false}, "axis": null},
        "x2": {"field": "shiftEnd"},
        "y": {"field": "level", "type": "quantitative", "scale": {"domain": [0, 892], "nice": false, "zero": false}, "axis": null},
        "y2": {"field": "levelEnd"}
      }
    },
    {
      "data": {"name": "heads"},
      "transform": [{"filter": "datum.part === 'thin'"}],
      "mark": {"type": "point", "shape": "triangle", "filled": true, "color": "black", "opacity": 1, "size": 40},
      "encoding": {
        "x": {"field": "shift", "type": "quantitative", "scale": {"domain": [138.9, 409.8], "nice": false, "zero": false}, "axis": null},
        "y": {"field": "level", "type": "quantitative", "scale": {"domain": [0, 892], "nice": false, "zero": false}, "axis": null},
        "angle": {"field": "direction", "type": "nominal", "scale": {"domain": ["down", "right", "left"], "range": [180, 90, 270]}, "legend": null}
      }
    },
    {
      "data": {"name": "heads"},
      "transform": [{"filter": "datum.part === 'bold'"}],
      "mark": {"type": "point", "shape": "triangle", "filled": true, "color": "black", "opacity": 1, "size": 80, "angle": 180},
      "encoding": {
        "x": {"field": "shift", "type": "quantitative", "scale": {"domain": [138.9, 409.8], "nice": false, "zero": false}, "axis": null},
        "y": {"field": "level", "type": "quantitative", "scale": {"domain": [0, 892], "nice": false, "zero": false}, "axis": null}
      }
    },
    {
      "data": {"values": [
        {"text": "R.T.", "shift": 159.1, "level": 842},
        {"text": "514.5nm", "shift": 160.2, "level": 805},
        {"text": "y", "shift": 151.6, "level": 730}
      ]},
      "mark": {"type": "text", "font": "Liberation Serif", "fontStyle": "italic", "fontSize": 31, "align": "left", "baseline": "alphabetic", "color": "black"},
      "encoding": {
        "x": {"field": "shift", "type": "quantitative", "scale": {"domain": [138.9, 409.8], "nice": false, "zero": false},
              "axis": {"orient": "top", "values": [200, 300, 400], "tickSize": -13, "tickWidth": 3, "labels": false, "title": null}},
        "y": {"field": "level", "type": "quantitative", "scale": {"domain": [0, 892], "nice": false, "zero": false}, "axis": null},
        "text": {"field": "text"}
      }
    },
    {
      "data": {"values": [
        {"text": "=0.55", "shift": 161.8, "level": 730},
        {"text": "on (100)GaAs", "shift": 151.6, "level": 700},
        {"text": "(c)", "shift": 166.6, "level": 552}
      ]},
      "mark": {"type": "text", "font": "Liberation Serif", "fontSize": 32, "align": "left", "baseline": "alphabetic", "color": "black"},
      "encoding": {
        "x": {"field": "shift", "type": "quantitative", "scale": {"domain": [138.9, 409.8], "nice": false, "zero": false}, "axis": null},
        "y": {"field": "level", "type": "quantitative", "scale": {"domain": [0, 892], "nice": false, "zero": false}, "axis": null},
        "text": {"field": "text"}
      }
    },
    {
      "data": {"values": [
        {"text": "TO:GaAs", "shift": 203.5, "level": 642},
        {"text": "LO:GaAs", "shift": 304.3, "level": 629}
      ]},
      "mark": {"type": "text", "font": "Liberation Serif", "fontStyle": "italic", "fontSize": 25, "align": "left", "baseline": "alphabetic", "color": "black"},
      "encoding": {
        "x": {"field": "shift", "type": "quantitative", "scale": {"domain": [138.9, 409.8], "nice": false, "zero": false}, "axis": null},
        "y": {"field": "level", "type": "quantitative", "scale": {"domain": [0, 892], "nice": false, "zero": false}, "axis": null},
        "text": {"field": "text"}
      }
    },
    {
      "data": {"values": [
        {"text": "5", "shift": 242.7, "level": 527},
        {"text": "3", "shift": 339.5, "level": 535},
        {"text": "2", "shift": 353.0, "level": 529},
        {"text": "N", "shift": 361.4, "level": 540},
        {"text": "1", "shift": 379.3, "level": 505},
        {"text": "4", "shift": 280.1, "level": 450}
      ]},
      "mark": {"type": "text", "font": "Liberation Serif", "fontStyle": "italic", "fontSize": 22, "align": "center", "baseline": "alphabetic", "color": "black"},
      "encoding": {
        "x": {"field": "shift", "type": "quantitative", "scale": {"domain": [138.9, 409.8], "nice": false, "zero": false}, "axis": null},
        "y": {"field": "level", "type": "quantitative", "scale": {"domain": [0, 892], "nice": false, "zero": false}, "axis": null},
        "text": {"field": "text"}
      }
    },
    {
      "data": {"values": [
        {"text": "TO₄", "shift": 238.6, "level": 31},
        {"text": "LO₄", "shift": 239.2, "level": 17},
        {"text": "LO₃", "shift": 277.2, "level": 18},
        {"text": "TO₂", "shift": 334.9, "level": 18},
        {"text": "LO₂", "shift": 353.3, "level": 21},
        {"text": "LO₁", "shift": 378.7, "level": 18}
      ]},
      "mark": {"type": "text", "font": "Liberation Serif", "fontStyle": "italic", "fontSize": 13, "align": "center", "baseline": "alphabetic", "color": "black"},
      "encoding": {
        "x": {"field": "shift", "type": "quantitative", "scale": {"domain": [138.9, 409.8], "nice": false, "zero": false}, "axis": null},
        "y": {"field": "level", "type": "quantitative", "scale": {"domain": [0, 892], "nice": false, "zero": false}, "axis": null},
        "text": {"field": "text"}
      }
    },
    {
      "data": {"values": [
        {"text": "(b)Z(XX)Z", "shift": 151.6, "level": 308},
        {"text": "(a)Z(XY)Z", "shift": 149.3, "level": 98}
      ]},
      "mark": {"type": "text", "font": "Liberation Serif", "fontSize": 32, "align": "left", "baseline": "alphabetic", "color": "black"},
      "encoding": {
        "x": {"field": "shift", "type": "quantitative", "scale": {"domain": [138.9, 409.8], "nice": false, "zero": false}, "axis": null},
        "y": {"field": "level", "type": "quantitative", "scale": {"domain": [0, 892], "nice": false, "zero": false}, "axis": null},
        "text": {"field": "text"}
      }
    }
  ]
}
